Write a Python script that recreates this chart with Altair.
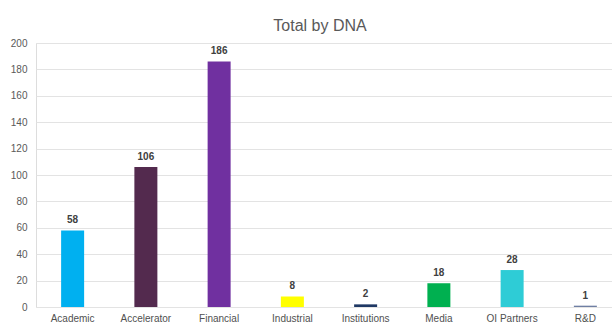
import altair as alt
import pandas as pd

categories = ["Academic", "Accelerator", "Financial", "Industrial",
              "Institutions", "Media", "OI Partners", "R&D"]
totals = [58, 106, 186, 8, 2, 18, 28, 1]
colors = ["#00B0F0", "#532A4E", "#7030A0", "#FFFF00",
          "#1F3864", "#00B050", "#2ECCD6", "#6F7FA3"]

df = pd.DataFrame({"category": categories, "total": totals, "color": colors})

# the category band runs a little past the visible right edge
x_enc = alt.X(
    "category:N",
    sort=categories,
    scale=alt.Scale(range=[0, 586], paddingInner=0.686, paddingOuter=0.343),
    axis=alt.Axis(title=None, labelAngle=0, labelFont="Liberation Sans",
                  labelFontSize=10, labelColor="#505050", labelPadding=6,
                  ticks=False, domain=False),
)
y_enc = alt.Y(
    "total:Q",
    scale=alt.Scale(domain=[0, 200], nice=False),
    axis=alt.Axis(title=None, values=list(range(0, 201, 20)),
                  labelFont="Liberation Sans", labelFontSize=10,
                  labelColor="#595959", labelPadding=9, ticks=False,
                  domain=False, gridColor="#E3E3E3", gridWidth=1),
)

base = alt.Chart(df).encode(x=x_enc, y=y_enc)

bars = base.mark_bar().encode(color=alt.Color("color:N", scale=None))

labels = base.mark_text(
    baseline="bottom", dy=-5, font="Liberation Sans", fontSize=10,
    fontWeight="bold", color="#404040",
).encode(text="total:Q")

chart = (
    (bars + labels)
    .properties(
        width=576,
        height=264,
        title=alt.TitleParams("Total by DNA", font="Liberation Sans",
                              fontSize=16, fontWeight="normal",
                              color="#595959", anchor="start", dx=263,
                              offset=4),
        autosize=alt.AutoSizeParams(type="none"),
        padding={"left": 36, "top": 43, "right": 0, "bottom": 18},
    )
    .configure_view(stroke=None)
    .configure(background="white")
)

chart.save("out.html", embed_options={"renderer": "svg", "actions": False})
